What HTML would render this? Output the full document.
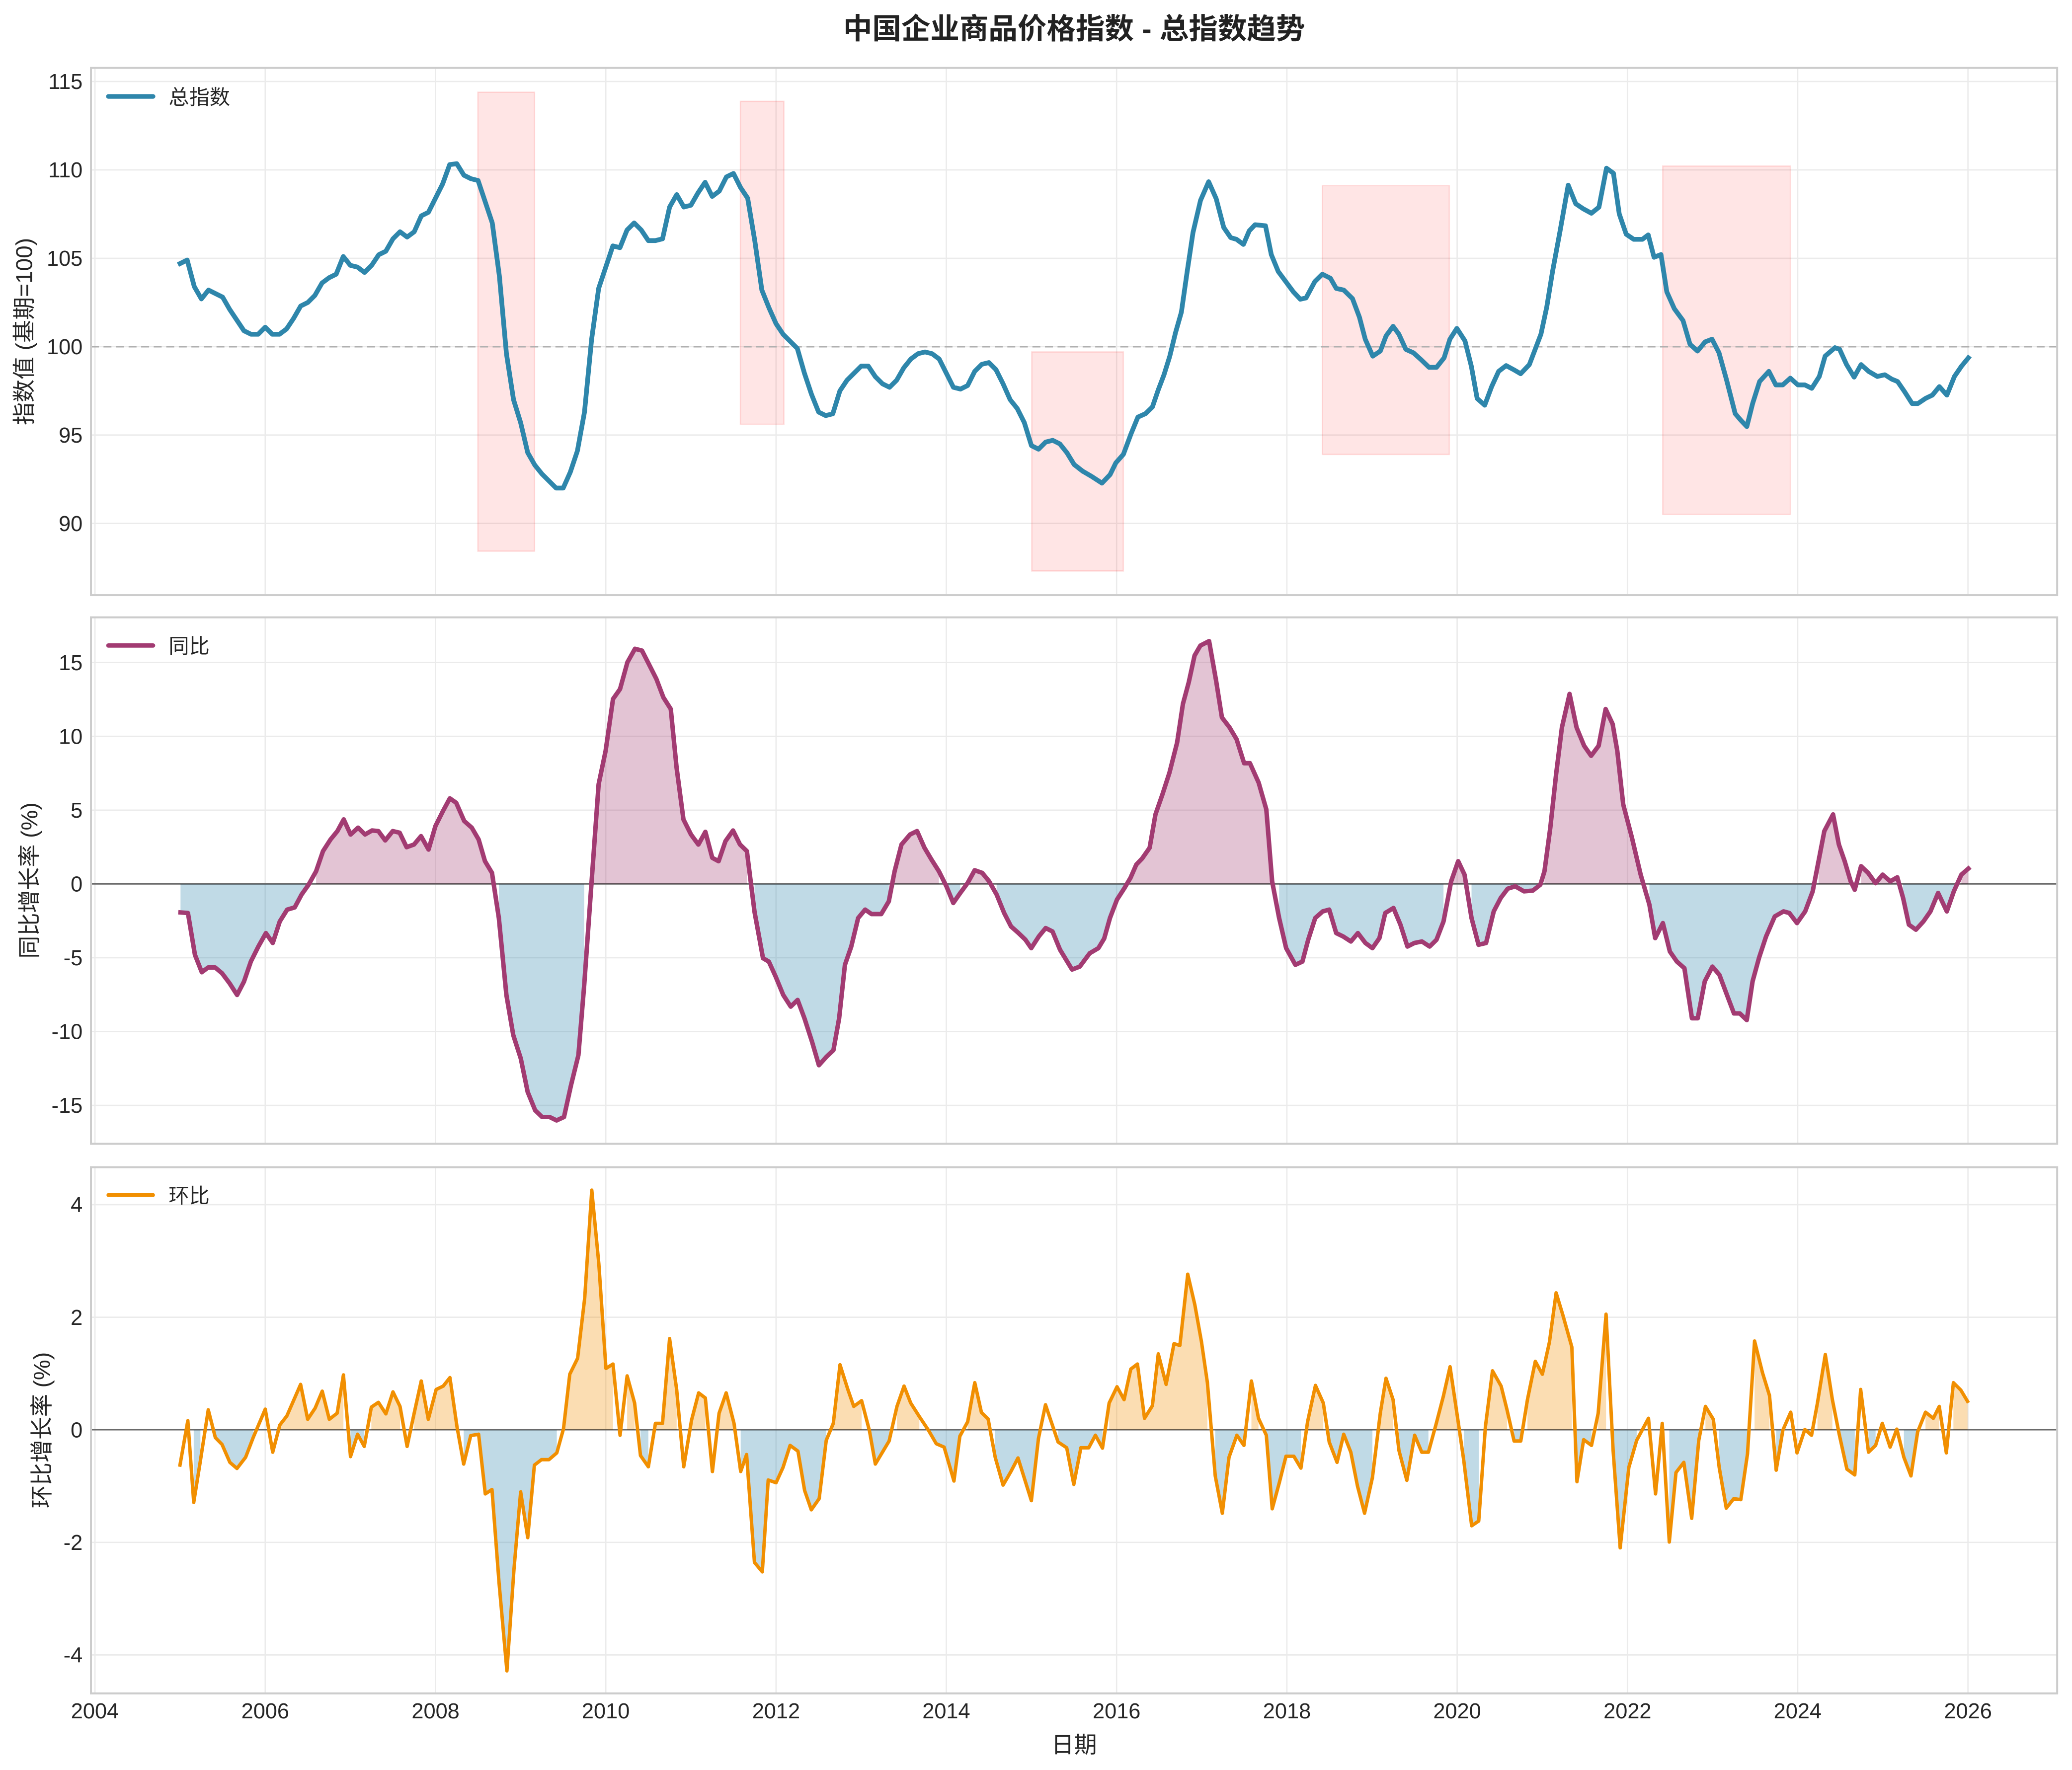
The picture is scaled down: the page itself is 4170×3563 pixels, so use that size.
<!DOCTYPE html>
<html><head><meta charset="utf-8">
<style>
html,body{margin:0;padding:0;background:#fff;overflow:hidden;}
svg{display:block;}
.tk{font-family:"Liberation Sans","Noto Sans CJK SC",sans-serif;font-size:16.3px;fill:#262626;}
.lb{font-family:"Liberation Sans","Noto Sans CJK SC",sans-serif;font-size:17.3px;fill:#262626;}
.lg{font-family:"Liberation Sans","Noto Sans CJK SC",sans-serif;font-size:15.5px;fill:#262626;}
.tt{font-family:"Liberation Sans","Noto Sans CJK SC",sans-serif;font-size:22px;font-weight:bold;fill:#222;}
</style></head>
<body>
<svg id="c" xmlns="http://www.w3.org/2000/svg" width="4170" height="3563" viewBox="0 0 1568 1339.8">
<rect x="0" y="0" width="1568" height="1339.8" fill="#fff"/>
<g id="layer"></g>
<!-- title -->
<text class="tt" x="812.8" y="29.4" text-anchor="middle">中国企业商品价格指数 - 总指数趋势</text>
<!-- y tick labels panel 1 -->
<text class="tk" x="62.5" y="401.9" text-anchor="end">90</text>
<text class="tk" x="62.5" y="335.0" text-anchor="end">95</text>
<text class="tk" x="62.5" y="268.1" text-anchor="end">100</text>
<text class="tk" x="62.5" y="201.2" text-anchor="end">105</text>
<text class="tk" x="62.5" y="134.3" text-anchor="end">110</text>
<text class="tk" x="62.5" y="67.4" text-anchor="end">115</text>
<!-- panel 2 -->
<text class="tk" x="62.5" y="507.2" text-anchor="end">15</text>
<text class="tk" x="62.5" y="563.1" text-anchor="end">10</text>
<text class="tk" x="62.5" y="618.9" text-anchor="end">5</text>
<text class="tk" x="62.5" y="674.8" text-anchor="end">0</text>
<text class="tk" x="62.5" y="730.7" text-anchor="end">-5</text>
<text class="tk" x="62.5" y="786.5" text-anchor="end">-10</text>
<text class="tk" x="62.5" y="842.4" text-anchor="end">-15</text>
<!-- panel 3 -->
<text class="tk" x="62.5" y="917.6" text-anchor="end">4</text>
<text class="tk" x="62.5" y="1002.8" text-anchor="end">2</text>
<text class="tk" x="62.5" y="1088.0" text-anchor="end">0</text>
<text class="tk" x="62.5" y="1173.2" text-anchor="end">-2</text>
<text class="tk" x="62.5" y="1258.4" text-anchor="end">-4</text>
<!-- x tick labels -->
<text class="tk" x="71.8" y="1300.6" text-anchor="middle">2004</text>
<text class="tk" x="200.7" y="1300.6" text-anchor="middle">2006</text>
<text class="tk" x="329.6" y="1300.6" text-anchor="middle">2008</text>
<text class="tk" x="458.4" y="1300.6" text-anchor="middle">2010</text>
<text class="tk" x="587.3" y="1300.6" text-anchor="middle">2012</text>
<text class="tk" x="716.1" y="1300.6" text-anchor="middle">2014</text>
<text class="tk" x="845.0" y="1300.6" text-anchor="middle">2016</text>
<text class="tk" x="973.9" y="1300.6" text-anchor="middle">2018</text>
<text class="tk" x="1102.7" y="1300.6" text-anchor="middle">2020</text>
<text class="tk" x="1231.6" y="1300.6" text-anchor="middle">2022</text>
<text class="tk" x="1360.4" y="1300.6" text-anchor="middle">2024</text>
<text class="tk" x="1489.3" y="1300.6" text-anchor="middle">2026</text>
<!-- axis labels -->
<text class="lb" x="812.8" y="1326.6" text-anchor="middle">日期</text>
<text class="lb" transform="translate(24.2,251) rotate(-90)" text-anchor="middle">指数值 (基期=100)</text>
<text class="lb" transform="translate(28.2,666.5) rotate(-90)" text-anchor="middle">同比增长率 (%)</text>
<text class="lb" transform="translate(37.6,1082.6) rotate(-90)" text-anchor="middle">环比增长率 (%)</text>
<!-- legends -->
<line x1="82" y1="73" x2="115.8" y2="73" stroke="#2E86AB" stroke-width="3.5" stroke-linecap="round"/>
<text class="lg" x="127.6" y="78.9">总指数</text>
<line x1="82" y1="488.6" x2="115.8" y2="488.6" stroke="#A23B72" stroke-width="3.3" stroke-linecap="round"/>
<text class="lg" x="127.6" y="494.5">同比</text>
<line x1="82" y1="904.6" x2="115.8" y2="904.6" stroke="#F18F01" stroke-width="2.9" stroke-linecap="round"/>
<text class="lg" x="127.6" y="910.5">环比</text>
</svg>
<script>
(function(){
var NS='http://www.w3.org/2000/svg';
var G=document.getElementById('layer');
function mk(t,a,p){var e=document.createElementNS(NS,t);for(var k in a)e.setAttribute(k,a[k]);(p||G).appendChild(e);return e;}
var L=68.8,R=1556.8;
var F1=function(v){return 262.4-(v-100)*13.38;};
var F2=function(v){return 669.1-v*11.173;};
var F3=function(v){return 1082.3-v*42.6;};
var panels=[{t:51.4,b:450.5,f:F1,ticks:[90,95,100,105,110,115]},
{t:467.3,b:865.8,f:F2,ticks:[-15,-10,-5,0,5,10,15]},
{t:883.5,b:1281.8,f:F3,ticks:[-4,-2,0,2,4]}];
var years=[];for(var y=2004;y<=2026;y+=2)years.push(71.84+(y-2004)*64.43);
panels.forEach(function(p){
 var g=mk('g',{stroke:'#ebebeb','stroke-width':1});
 p.ticks.forEach(function(v){var yy=p.f(v);mk('line',{x1:L,x2:R,y1:yy,y2:yy},g);});
 years.forEach(function(x){mk('line',{x1:x,x2:x,y1:p.t,y2:p.b},g);});
});
// shaded rectangles panel 1
[[361.6,69.8,404.5,417.2],[560.3,76.7,593.2,321.2],[780.8,266.4,850.1,432.2],[1000.7,140.5,1096.8,344.0],[1258.3,125.7,1354.9,389.4]].forEach(function(r){
 mk('rect',{x:r[0],y:r[1],width:r[2]-r[0],height:r[3]-r[1],fill:'#ff0000','fill-opacity':0.1,stroke:'#ff0000','stroke-opacity':0.12,'stroke-width':1});
});
// dashed 100 line
mk('line',{x1:L,x2:R,y1:F1(100),y2:F1(100),stroke:'#b0b0b0','stroke-width':1.3,'stroke-dasharray':'6 3.5'});

// ---------- data ----------
var idxM=[104.7,104.9,103.4,102.7,103.2,103.0,102.8,102.1,101.5,100.9,
100.7,100.7,101.1,100.7,100.7,101.0,101.6,102.3,102.5,102.9,
103.6,103.9,104.1,105.1,104.6,104.5,104.2,104.6,105.2,105.4,
106.1,106.5,106.2,106.5,107.4,107.6,108.4,109.2,110.3,110.35,
109.7,109.5,109.4,108.2,107.0,104.0,99.6,97.0,95.7,94.0,
93.3,92.8,92.4,92.0,92.0,92.9,94.1,96.3,100.4,103.3,
104.5,105.7,105.6,106.6,107.0,106.6,106.0,106.0,106.1,107.9,
108.6,107.9,108.0,108.7,109.3,108.5,108.8,109.6,109.8,109.0,
108.4,106.0,103.2,102.2,101.3,100.7,100.3,99.9,98.5,97.3,
96.3,96.1,96.2,97.5,98.1,98.5,98.9,98.9,98.3,97.9,
97.7,98.1,98.8,99.3,99.6,99.7,99.6,99.3,98.5,97.7,
97.6,97.8,98.6,99.0,99.1,98.7,97.9,97.0,96.5,95.7,
94.4,94.2,94.6,94.7,94.5,94.0];
var idx=idxM.map(function(v,i){return [136.27+5.369*i,v];});
var z8=[[10,1180],[25,1200],[40,1215],[58,1235],[72,1210],[82,1175],[95,1150],[108,1090],[120,1040],[133,1030],[145,1010],[155,960],[165,915],[175,860],[185,790],[195,730],[205,610],[215,495],[228,400],[242,345],[255,395],[268,480],[280,510],[290,515],[302,530],[312,490],[322,472],[340,475],[350,560],[362,610],[375,640],[388,670],[400,692],[410,688],[425,640],[438,618],[452,630],[462,660],[475,665],[490,690],[502,745],[512,810],[525,860],[538,845],[548,800],[560,772],[570,795],[582,840],[595,850],[608,870],[622,893],[635,893],[648,865],[658,810],[670,778],[684,815],[695,890],[705,985],[718,1005],[730,950],[742,905],[755,888],[768,900],[780,912],[795,885],[805,840],[815,795],[825,715],[835,610],[848,490],[862,355],[875,410],[888,425],[902,438],[915,420],[928,305],[940,320],[950,440],[962,500],[975,515],[990,515],[1000,502],[1010,568],[1022,560],[1032,670],[1045,720],[1060,755],[1072,825],[1085,845],[1098,818],[1110,810],[1122,850],[1135,930],[1150,1030],[1160,1050],[1170,1068],[1180,1000],[1192,935],[1208,905],[1220,945],[1232,945],[1245,925],[1258,945],[1270,945],[1282,955],[1295,920],[1305,860],[1322,835],[1330,840],[1342,885],[1355,922],[1367,885],[1380,905],[1395,920],[1408,915],[1420,928],[1430,935],[1442,965],[1455,1000],[1465,1000],[1478,985],[1490,975],[1502,950],[1515,975],[1528,920],[1540,890],[1552,865]];
z8.forEach(function(p){idx.push([808.45+p[0]*0.43888,100-(p[1]-832)/52.2]);});

var yoy=[[136.6,-1.93],[142.2,-1.97],[147.5,-4.8],[152.7,-5.98],[157.5,-5.66],[162.8,-5.66],[168,-6.05],[173.7,-6.73],[179.4,-7.52],[184.6,-6.62],[189.8,-5.26],[195.5,-4.24],[201.2,-3.33],[206.4,-4.0],[211.7,-2.54],[217.3,-1.74],[223,-1.59],[228.2,-0.72],[233.5,-0.05],[239.2,0.86],[244.4,2.22],[250.1,3.01],[255.3,3.58],[260.1,4.37],[265.3,3.35],[271,3.81],[276.2,3.35],[281.5,3.62],[286.3,3.58],[291.5,2.95],[297.2,3.58],[302.4,3.47],[307.7,2.49],[313.3,2.67],[318.6,3.24],[324.3,2.33],[329.5,3.92],[335.2,4.94],[340.4,5.8],[345.2,5.5],[351.3,4.26],[357,3.81],[362.2,3.01],[367,1.54],[372.3,0.75],[377.5,-2.31],[383.2,-7.52],[388.4,-10.24],[394.1,-11.83],[399.3,-14.09],[405,-15.34],[410.2,-15.79],[415.9,-15.79],[421.2,-16.02],[426.8,-15.79],[432.1,-13.64],[437.7,-11.6],[442.1,-6.84],[447.8,0.3],[453,6.75],[458.3,9.02],[463.9,12.53],[469.2,13.2],[474.8,15.02],[480.5,15.93],[485.8,15.81],[491,14.9],[496.7,13.89],[502,12.64],[507.6,11.85],[512,7.88],[517.2,4.37],[522.9,3.35],[528.5,2.67],[533.8,3.53],[539,1.77],[543.8,1.54],[549,2.9],[554.7,3.62],[560,2.67],[565.2,2.22],[571,-1.9],[577.4,-5.03],[581.8,-5.26],[587,-6.28],[592.7,-7.52],[598.4,-8.31],[603.6,-7.86],[608.8,-9.11],[614.5,-10.69],[619.7,-12.28],[625.4,-11.71],[630.7,-11.26],[635,-9.11],[639.4,-5.48],[644.2,-4.24],[649.4,-2.31],[654.7,-1.74],[659.5,-2.04],[666.9,-2.04],[672.6,-1.18],[677,0.86],[682.2,2.67],[688.7,3.35],[694,3.58],[699.6,2.45],[704.9,1.65],[710.5,0.86],[716.2,-0.16],[721.4,-1.29],[726.7,-0.61],[732.3,0.07],[737.6,0.93],[743.3,0.75],[748.5,0.18],[754.2,-0.72],[759.9,-1.97],[765.1,-2.88],[770.8,-3.33],[776,-3.78],[780.4,-4.35],[786.1,-3.56],[791.3,-2.99],[796.5,-3.22],[802.2,-4.46],
[811.3,-5.8],[817.1,-5.6],[824.6,-4.7],[831.2,-4.35],[835.6,-3.7],[840,-2.3],[845.3,-1.06],[851,-0.27],[855.5,0.41],[859.9,1.31],[864.3,1.72],[870,2.45],[874.4,4.71],[879.7,6.07],[885,7.54],[890.8,9.58],[895.2,12.2],[899.6,13.66],[904,15.47],[908.4,16.15],[915,16.45],[920.3,13.77],[924.7,11.28],[930.5,10.6],[935.8,9.8],[941.5,8.18],[945.9,8.18],[952.5,6.86],[958.3,5.05],[962.7,0.18],[968,-2.31],[973.3,-4.35],[980.3,-5.48],[985.6,-5.26],[990,-3.78],[995.3,-2.31],[1001,-1.86],[1005.9,-1.74],[1011.2,-3.33],[1016.5,-3.56],[1022.3,-3.9],[1027.6,-3.33],[1033.3,-4.0],[1038.6,-4.35],[1043.9,-3.67],[1048.3,-1.97],[1054.5,-1.63],[1059.8,-2.76],[1065.1,-4.24],[1070.4,-4.0],[1076.1,-3.9],[1081.9,-4.24],[1087.1,-3.78],[1092.4,-2.54],[1098.2,0.18],[1103.5,1.54],[1108.3,0.63],[1113.6,-2.31],[1118.9,-4.12],[1124.6,-4.0],[1130.4,-1.86],[1135.7,-0.95],[1141,-0.32],[1146.7,-0.16],[1153.3,-0.5],[1160,-0.45],[1165.7,-0.05],[1168.8,0.86],[1173.2,3.8],[1177.6,7.43],[1182,10.6],[1187.8,12.87],[1193.1,10.6],[1198.8,9.36],[1204.1,8.68],[1209.8,9.36],[1215.1,11.85],[1220.4,10.83],[1223.9,9.02],[1228.4,5.39],[1235,3.13],[1241.6,0.63],[1248.2,-1.4],[1252.6,-3.67],[1258.4,-2.65],[1263.7,-4.58],[1269,-5.26],[1274.7,-5.71],[1280.4,-9.1],[1284.8,-9.1],[1290.1,-6.6],[1295.9,-5.6],[1301.2,-6.16],[1306.9,-7.52],[1312.2,-8.77],[1316.6,-8.77],[1321.9,-9.22],[1326.3,-6.6],[1331.2,-5.0],[1336.5,-3.56],[1343.1,-2.2],[1349.7,-1.86],[1354.1,-1.97],[1359.9,-2.65],[1366.1,-1.86],[1371.8,-0.5],[1376.2,1.54],[1380.6,3.58],[1387.2,4.71],[1391.6,2.67],[1396,1.54],[1400.5,0.18],[1403.6,-0.39],[1408.4,1.2],[1413.7,0.75],[1419.4,0.05],[1424.7,0.63],[1430.5,0.18],[1435.8,0.45],[1440.2,-0.95],[1444.6,-2.76],[1449.9,-3.1],[1455.6,-2.54],[1460.9,-1.86],[1466.7,-0.61],[1473.3,-1.86],[1478.6,-0.5],[1484.3,0.63],[1489.6,1.04]];

var z5=[[28,893],[48,762],[63,1003],[80,880],[100,730],[118,812],[135,832],[155,885],[173,903],[195,870],[215,810],[245,728],[264,855],[282,775],[300,748],[335,655],[353,758],[372,725],[390,675],[408,758],[428,740],[444,627],[462,868],[480,802],[497,838],[515,722],[533,708],[552,742],[570,677],[588,720],[606,838],[624,740],[642,645],[660,758],[680,670],[698,660],[715,635],[733,780],[750,890],[768,806],[788,802],[805,978],[822,965],[840,1240],[860,1500],[878,1200],[895,972],[913,1107],[930,893],[948,877],[967,877],[987,857],[1004,786],[1020,625],[1040,578],[1058,400],[1076,82],[1094,300],[1112,608],[1130,595],[1148,805],[1166,630],[1185,710],[1200,865],[1220,898],[1238,770],[1256,770],[1274,520],[1292,670],[1310,898],[1330,760],[1348,680],[1365,695],[1383,912],[1400,740],[1418,680],[1438,770],[1455,912],[1470,862],[1490,1180],[1510,1208],[1525,937],[1545,945]];
var z6=[[20,900],[38,835],[58,852],[75,968],[92,1025],[112,992],[130,820],[148,770],[165,597],[185,670],[200,720],[220,703],[240,792],[255,890],[290,822],[310,720],[328,660],[345,710],[367,750],[390,790],[410,830],[430,840],[455,940],[470,808],[490,765],[508,650],[525,738],[542,757],[560,870],[580,952],[600,912],[618,872],[652,998],[670,815],[688,715],[720,825],[742,842],[760,950],[778,842],[798,842],[815,805],[833,843],[850,710],[870,662],[888,700],[905,610],[922,595],[940,755],[960,718],[975,565],[995,655],[1015,535],[1030,540],[1050,330],[1068,420],[1085,530],[1100,650],[1120,925],[1138,1035],[1155,870],[1175,805],[1193,835],[1212,645],[1230,755],[1250,805],[1265,1022],[1283,945],[1300,867],[1320,867],[1338,902],[1355,765],[1375,658],[1395,710],[1410,825],[1430,885],[1447,802],[1465,855],[1482,955],[1500,1035],[1520,930],[1540,740]];
var z7=[[12,637],[30,700],[45,850],[65,938],[85,805],[103,855],[120,855],[140,770],[158,690],[175,603],[195,760],[210,880],[230,1072],[248,1058],[265,780],[283,615],[305,660],[320,730],[338,822],[355,822],[372,700],[392,587],[410,625],[428,530],[445,385],[462,450],[485,545],[498,942],[515,818],[535,835],[552,740],[572,448],[590,850],[608,1137],[630,900],[650,820],[680,755],[698,978],[715,770],[733,1120],[750,915],[770,885],[790,1050],[808,820],[825,720],[845,758],[860,900],[878,1020],[897,992],[915,995],[932,860],[950,527],[970,620],[988,688],[1005,908],[1022,790],[1042,737],[1058,857],[1078,788],[1095,805],[1110,710],[1130,567],[1148,700],[1165,800],[1185,905],[1205,922],[1220,670],[1240,855],[1258,835],[1275,770],[1295,840],[1312,787],[1330,870],[1348,925],[1365,795],[1385,737],[1405,755],[1420,720],[1438,857],[1456,650],[1475,672],[1492,705]];
var mom=[];
z5.forEach(function(p){mom.push([127.85+p[0]*0.29737,(789-p[1])/166]);});
z6.forEach(function(p){mom.push([586.6+p[0]*0.29737,(789-p[1])/166]);});
z7.forEach(function(p){mom.push([1045.3+p[0]*0.29737,(789-p[1])/166]);});

function fills(pts,f,pc,nc){
 var i=0,n=pts.length;
 while(i<n){
  var s=pts[i][1]>=0,j=i;
  while(j+1<n&&((pts[j+1][1]>=0)===s))j++;
  if(j>i){
   var d='M'+pts[i][0].toFixed(2)+','+f(0).toFixed(2);
   for(var k=i;k<=j;k++)d+='L'+pts[k][0].toFixed(2)+','+f(pts[k][1]).toFixed(2);
   d+='L'+pts[j][0].toFixed(2)+','+f(0).toFixed(2)+'Z';
   mk('path',{d:d,fill:s?pc:nc,'fill-opacity':0.3,stroke:'none'});
  }
  i=j+1;
 }
}
function line(pts,f,col,w){
 var d='';
 pts.forEach(function(p,i){d+=(i?'L':'M')+p[0].toFixed(2)+','+f(p[1]).toFixed(2);});
 mk('path',{d:d,fill:'none',stroke:col,'stroke-width':w,'stroke-linejoin':'round','stroke-linecap':'square'});
}
fills(yoy,F2,'#A23B72','#2E86AB');
fills(mom,F3,'#F18F01','#2E86AB');
mk('line',{x1:L,x2:R,y1:F2(0),y2:F2(0),stroke:'#000','stroke-opacity':0.55,'stroke-width':1});
mk('line',{x1:L,x2:R,y1:F3(0),y2:F3(0),stroke:'#000','stroke-opacity':0.55,'stroke-width':1});
line(idx,F1,'#2E86AB',3.6);
line(yoy,F2,'#A23B72',3.4);
line(mom,F3,'#F18F01',2.6);
panels.forEach(function(p){
 mk('rect',{x:L,y:p.t,width:R-L,height:p.b-p.t,fill:'none',stroke:'#cccccc','stroke-width':1.5});
});
})();
</script>
</body></html>
